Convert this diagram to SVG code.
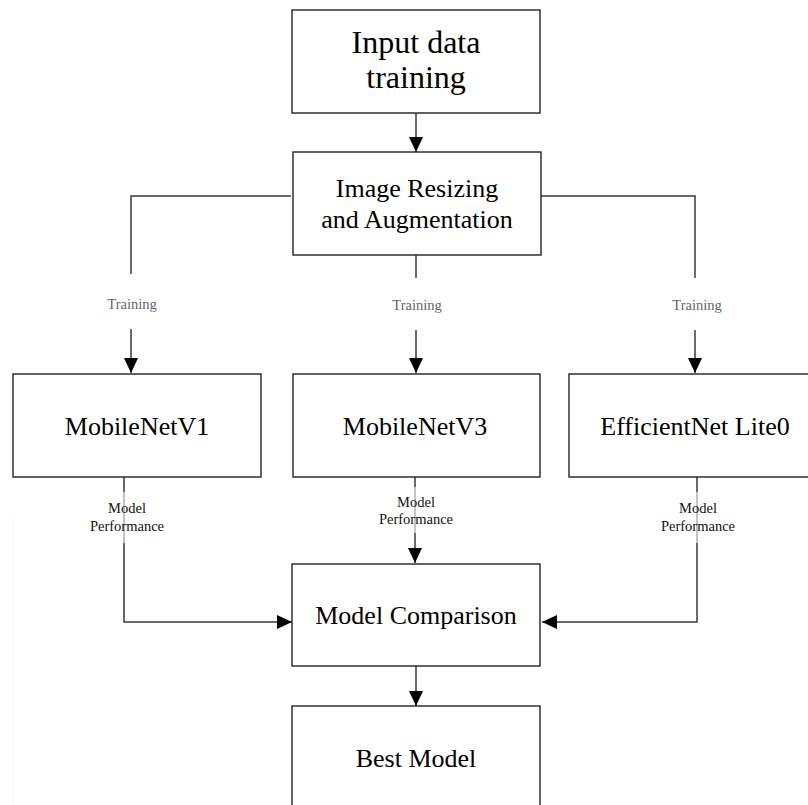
<svg xmlns="http://www.w3.org/2000/svg" width="808" height="805" viewBox="0 0 808 805">
<defs>
<marker id="ah" markerUnits="userSpaceOnUse" markerWidth="15" markerHeight="14" refX="15" refY="7" orient="auto">
<path d="M0,0 L15,7 L0,14 Z" fill="#000"/>
</marker>
<style>
.box{fill:#fff;stroke:#222;stroke-width:1.4}
.t{font-family:"Liberation Serif","Times New Roman",serif;fill:#000;text-anchor:middle}
.big{font-size:26px}
.lbl{font-family:"Liberation Serif","Times New Roman",serif;font-size:14.5px;text-anchor:middle}
.tr{fill:#666}
.mp{fill:#111}
.ln{fill:none;stroke:#3a3a3a;stroke-width:1.5}
.arr{marker-end:url(#ah)}
.bg{fill:#fff;fill-opacity:0.6}
</style>
</defs>
<rect width="808" height="805" fill="#fff"/>
<line x1="13" y1="515" x2="13" y2="805" stroke="#f2f2f2" stroke-width="1"/>

<g id="connectors">
<path class="ln arr" d="M416,113 V152"/>
<path class="ln" d="M291,196 H131 V274"/>
<path class="ln arr" d="M131,329 V373"/>
<path class="ln" d="M416,255 V278"/>
<path class="ln arr" d="M416,330 V373"/>
<path class="ln" d="M541,196 H695 V278"/>
<path class="ln arr" d="M695,330 V373"/>
<path class="ln arr" d="M124,477 V622 H292"/>
<path class="ln arr" d="M415,477 V563"/>
<path class="ln arr" d="M697,477 V622 H542"/>
<path class="ln arr" d="M416,666 V706"/>
<text class="lbl tr" x="132" y="309">Training</text>
<text class="lbl tr" x="417" y="310">Training</text>
<text class="lbl tr" x="697" y="310">Training</text>
<rect class="bg" x="89" y="492" width="76" height="51"/>
<text class="lbl mp" x="127" y="513">Model</text>
<text class="lbl mp" x="127" y="531">Performance</text>
<rect class="bg" x="378" y="487" width="76" height="46"/>
<text class="lbl mp" x="416" y="507">Model</text>
<text class="lbl mp" x="416" y="524">Performance</text>
<rect class="bg" x="660" y="492" width="76" height="51"/>
<text class="lbl mp" x="698" y="513">Model</text>
<text class="lbl mp" x="698" y="531">Performance</text>
</g>

<g id="input">
<rect class="box" x="292" y="10" width="248" height="103"/>
<text class="t" x="416" y="53" font-size="32">Input data</text>
<text class="t" x="416" y="88" font-size="32">training</text>
</g>
<g id="resize">
<rect class="box" x="293" y="152" width="248" height="103"/>
<text class="t big" x="417" y="197">Image Resizing</text>
<text class="t big" x="417" y="228">and Augmentation</text>
</g>
<g id="mobilenetv1">
<rect class="box" x="13" y="374" width="248" height="103"/>
<text class="t big" x="137" y="435">MobileNetV1</text>
</g>
<g id="mobilenetv3">
<rect class="box" x="293" y="374" width="247" height="103"/>
<text class="t big" x="415" y="435">MobileNetV3</text>
</g>
<g id="efficientnet">
<rect class="box" x="569" y="374" width="252" height="103"/>
<text class="t big" x="695" y="435">EfficientNet Lite0</text>
</g>
<g id="comparison">
<rect class="box" x="292" y="564" width="248" height="102"/>
<text class="t big" x="416" y="624">Model Comparison</text>
</g>
<g id="best">
<rect class="box" x="292" y="706" width="248" height="110"/>
<text class="t big" x="416" y="767">Best Model</text>
</g>
</svg>
